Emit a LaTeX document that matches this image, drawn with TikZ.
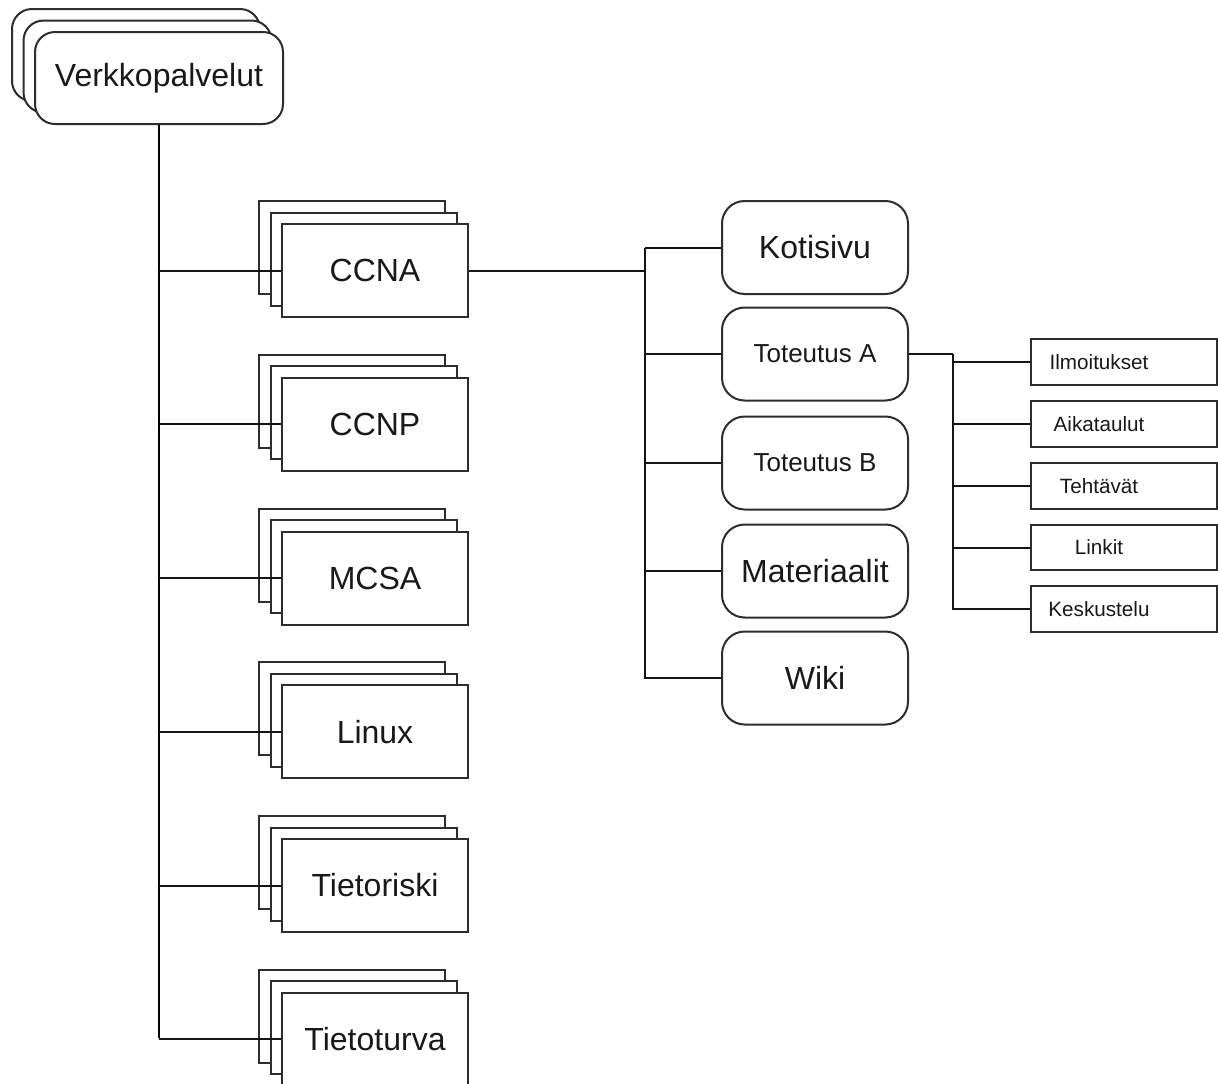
\documentclass[tikz,border=0pt]{standalone}
\usepackage{fontspec}
\setmainfont{Liberation Sans}
\usetikzlibrary{shadows}

\tikzset{every picture/.style={line width=1.5pt}}
\tikzset{
	stackbox/.style={draw={rgb, 255:red, 45; green, 45; blue, 45 }, fill=white, inner sep=0pt, line width=1.5pt,
		minimum width=139.5pt, minimum height=69.75pt, font=\fontsize{24}{28}\selectfont,
		text={rgb, 255:red, 25; green, 25; blue, 25 },
		copy shadow={shadow xshift=-17.25pt, shadow yshift=17.25pt, line width=1.5pt},
		copy shadow={shadow xshift=-8.6pt, shadow yshift=8.6pt, line width=1.5pt}},
	roundbox/.style={draw={rgb, 255:red, 45; green, 45; blue, 45 }, fill=white, rounded corners=17pt,
		inner sep=0pt, minimum width=139.5pt, minimum height=69.75pt, line width=1.5pt,
		text={rgb, 255:red, 25; green, 25; blue, 25 }},
	smallbox/.style={draw={rgb, 255:red, 45; green, 45; blue, 45 }, fill=white, inner sep=0pt,
		minimum width=139.5pt, minimum height=34pt, line width=1.5pt},
	smalltext/.style={font=\fontsize{15.5}{18}\selectfont, text={rgb, 255:red, 25; green, 25; blue, 25 }},
	bigtext/.style={font=\fontsize{24}{28}\selectfont},
	midtext/.style={font=\fontsize{19.5}{23}\selectfont},
	linkline/.style={draw={rgb, 255:red, 20; green, 20; blue, 20 }, line width=1.5pt},
	trunkline/.style={draw=black, line width=2pt}}

\begin{document}
\begin{tikzpicture}[x=0.75pt,y=0.75pt,yscale=-1,xscale=1]
	\useasboundingbox (0,0) rectangle (1218,1083);

	%Root with stacked copies
	\node [stackbox, rounded corners=15pt, minimum width=186pt, minimum height=69pt] (verk) at (159,78) {Verkkopalvelut};

	%Course stacks
	\node [stackbox] (ccna) at (375,270.5) {CCNA};
	\node [stackbox] (ccnp) at (375,424.3) {CCNP};
	\node [stackbox] (mcsa) at (375,578) {MCSA};
	\node [stackbox] (linux) at (375,731.8) {Linux};
	\node [stackbox] (triski) at (375,885.5) {Tietoriski};
	\node [stackbox] (tturva) at (375,1039.3) {Tietoturva};

	%CCNA pages
	\node [roundbox, bigtext] (koti) at (815,247.5) {Kotisivu};
	\node [roundbox, midtext] (totA) at (815,354) {Toteutus A};
	\node [roundbox, midtext] (totB) at (815,463) {Toteutus B};
	\node [roundbox, bigtext] (mater) at (815,571) {Materiaalit};
	\node [roundbox, bigtext] (wiki) at (815,678) {Wiki};

	%Toteutus A pages
	\node [smallbox] (ilmo) at (1124,362) {};
	\node [smallbox] (aika) at (1124,424) {};
	\node [smallbox] (teht) at (1124,486) {};
	\node [smallbox] (link) at (1124,547.5) {};
	\node [smallbox] (kesk) at (1124,609) {};
	% Text Node
	\node [smalltext] at ([xshift=-18.75pt]ilmo.center) {Ilmoitukset};
	% Text Node
	\node [smalltext] at ([xshift=-18.75pt]aika.center) {Aikataulut};
	% Text Node
	\node [smalltext] at ([xshift=-18.75pt]teht.center) {Tehtävät};
	% Text Node
	\node [smalltext] at ([xshift=-18.75pt]link.center) {Linkit};
	% Text Node
	\node [smalltext] at ([xshift=-18.75pt]kesk.center) {Keskustelu};

	%Trunk
	\draw [trunkline] (verk.south) -- ([yshift=-0.75pt]verk.south |- tturva.west);
	\foreach \n in {ccna,ccnp,mcsa,linux,triski,tturva}
		\draw [linkline] (verk.south |- \n.west) -- (\n.west);

	%CCNA bus
	\coordinate (bus) at (645,0);
	\draw [linkline] (ccna.east) -- (bus |- ccna.east);
	\draw [linkline] (bus |- koti.west) |- (wiki.west);
	\foreach \n in {koti,totA,totB,mater}
		\draw [linkline] (bus |- \n.west) -- (\n.west);

	%Toteutus A bus
	\coordinate (sbus) at (953,0);
	\draw [linkline] (totA.east) -- (sbus |- totA.east);
	\draw [linkline] (sbus |- totA.east) |- (kesk.west);
	\foreach \n in {ilmo,aika,teht,link}
		\draw [linkline] (sbus |- \n.west) -- (\n.west);

\end{tikzpicture}
\end{document}
